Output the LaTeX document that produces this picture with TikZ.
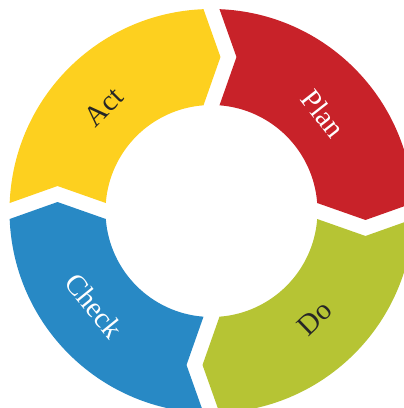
\documentclass[tikz,border=0pt]{standalone}
\usepackage{fontspec}
\setmainfont{Liberation Serif}
\usetikzlibrary{calc}
\definecolor{actY}{HTML}{FDD01F}
\definecolor{planR}{HTML}{C82229}
\definecolor{doG}{HTML}{B6C434}
\definecolor{checkB}{HTML}{2889C5}
\newcommand\pdcaSeg[2]{%
  \pgfmathsetmacro\sa{#1-2.27}%
  \pgfmathsetmacro\sb{#1-90+2.27}%
  \pgfmathsetmacro\st{#1-90-3.34}%
  \pgfmathsetmacro\si{#1-90+4.33}%
  \pgfmathsetmacro\sj{#1-4.33}%
  \pgfmathsetmacro\sn{#1-9.22}%
  \fill[#2] (\sa:202) arc[start angle=\sa, end angle=\sb, radius=202]
    -- (\st:154.26) -- (\si:106)
    arc[start angle=\si, end angle=\sj, radius=106]
    -- (\sn:156) -- cycle;}
\tikzset{
  lbl/.style={font=\fontsize{29}{29}\selectfont, inner sep=0pt, anchor=center}
}
\begin{document}
\begin{tikzpicture}[x=1pt,y=1pt]
\useasboundingbox (-211.5,-197) rectangle (192.5,211);
\clip (-211.5,-197) rectangle (192.5,211);
\pdcaSeg{90}{planR}
\pdcaSeg{0}{doG}
\pdcaSeg{270}{checkB}
\pdcaSeg{180}{actY}
\node[lbl, text=white, rotate=-52] (plan) at (41:148) {Plan};
\node[lbl, text=black!85, rotate=44] (do) at (-46:149) {Do};
\node[lbl, text=white, rotate=-51] (check) at (219:151) {Check};
\node[lbl, text=black!85, rotate=45] (act) at (136:150) {Act};
\end{tikzpicture}
\end{document}
